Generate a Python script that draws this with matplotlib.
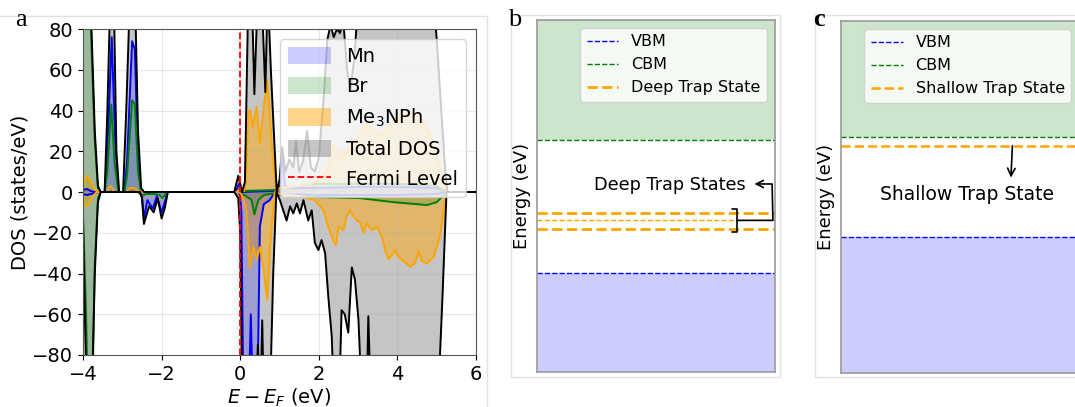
import matplotlib.pyplot as plt
from matplotlib.lines import Line2D
from matplotlib.patches import Rectangle

# ---- panel a: spin-resolved DOS (spin up > 0, spin down < 0) ----
MN_UP_E = [-4.0, -3.9, -3.8, -3.7, -3.45, -3.38, -3.27, -3.18, -3.1, -2.95, -2.88, -2.75, -2.68, -2.6, -2.52,
           -0.12, -0.03, 0.03, 0.95, 1.0, 1.07, 1.14, 1.3, 2.0, 3.0, 4.0, 5.0, 5.25, 6.0]
MN_UP = [1, 1.5, 0.5, 0, 0, 20, 76, 25, 0, 0, 15, 74, 70, 15, 0,
         0, 4, 0, 0.5, 3, 19, 3, 2, 2, 2.5, 2.5, 2, 0, 0]
MN_DN_E = [-4.0, -3.9, -3.7, -3.6, -2.55, -2.5, -2.45, -2.36, -2.3, -2.22, -2.12, -2.0, -1.92, -1.85,
           -0.05, 0.0, 0.03, 0.08, 0.22, 0.27, 0.32, 0.44, 0.5, 0.6, 0.75, 0.88, 1.0, 2.0, 3.0, 4.0, 5.0, 5.25, 6.0]
MN_DN = [-1, -1.5, -0.5, 0, 0, -2, -13, -4, -6, -8, -2, -10, -5, 0,
         0, -2, -10, -100, -100, -60, -100, -100, -17, -6, -4, 0, -1, -1.5, -1.5, -1.5, -1, 0, 0]

BR_UP_E = [-4.0, -3.9, -3.8, -3.7, -3.62, -3.55, -3.45, -3.38, -3.28, -3.2, -3.1, -2.95, -2.88, -2.75, -2.68,
           -2.6, -2.52, -0.1, -0.02, 0.05, 0.9, 1.0, 2.0, 3.0, 4.0, 5.0, 5.25, 6.0]
BR_UP = [85, 110, 80, 25, 2, 0, 0, 10, 43, 15, 0, 0, 8, 45, 43,
         10, 0, 0, 1, 0.5, 1, 2, 4, 4, 4, 3, 0, 0]
BR_DN_E = [-4.0, -3.92, -3.88, -3.76, -3.7, -3.62, -3.55, -2.6, -2.5, -2.4, -2.2, -2.05, -1.98, -1.9, -1.85,
           -0.05, 0.05, 0.15, 0.29, 0.36, 0.46, 0.6, 0.9, 1.0, 2.0, 3.05, 3.9, 4.75, 5.0, 5.25, 6.0]
BR_DN = [-11, -60, -100, -100, -35, -3, 0, 0, -2, -1, -1, -1.5, -3, -1, 0,
         0, -1, -2, -4, -11, -4, -1.5, -0.5, -1.5, -2.5, -3, -5, -6.4, -5, 0, 0]

ORG_UP_E = [-4.0, -3.9, -3.8, -3.7, -3.6, -3.4, -3.3, -3.2, -2.9, -2.8, -2.7, -2.6, -2.5, -0.1, 0.0, 0.1,
            0.14, 0.21, 0.25, 0.32, 0.42, 0.5, 0.59, 0.69, 0.75, 0.81, 0.92, 1.0, 1.5, 1.8, 2.0, 2.2, 2.36,
            2.6, 2.96, 3.22, 3.56, 3.9, 4.24, 4.58, 4.84, 5.08, 5.25, 6.0]
ORG_UP = [3, 8, 5, 1, 0, 0, 3, 0, 0, 2, 2, 0.5, 0, 0, 1, 0.5,
          5, 40, 40, 32, 42, 24, 40, 55, 40, 21, 0, 2, 3, 4, 6, 10, 23,
          17, 26, 33, 28, 34.5, 39, 36.5, 28, 12, 0, 0]
ORG_DN_E = [-4.0, -3.92, -3.85, -3.75, -3.65, -0.05, 0.03, 0.1, 0.16, 0.25, 0.33, 0.42, 0.5, 0.59, 0.69,
            0.76, 0.88, 1.0, 1.5, 1.9, 2.12, 2.24, 2.37, 2.44, 2.5, 2.63, 2.71, 2.79, 2.88, 2.97, 3.05,
            3.14, 3.22, 3.35, 3.48, 3.6, 3.69, 3.77, 3.86, 3.94, 4.03, 4.16, 4.33, 4.45, 4.54, 4.62,
            4.75, 4.92, 5.08, 5.25, 6.0]
ORG_DN = [-3, -7, -6, -2, 0, 0, -1, -5, -9, -37.5, -27, -33, -27, -37, -53,
          -27, 0, -1, -2, -4, -9, -17, -24, -26, -17, -18.7, -12, -9, -12, -14, -15,
          -20, -15.5, -18.7, -17, -22, -28.5, -33, -31, -28.5, -32, -34, -36.7, -35, -29, -34,
          -35, -32, -22, 0, 0]

TOT_UP_E = [-4.0, -3.9, -3.8, -3.7, -3.62, -3.55, -3.45, -3.38, -3.3, -3.22, -3.15, -3.08, -2.98, -2.9,
            -2.8, -2.68, -2.6, -2.52, -2.45, -0.15, -0.05, 0.05, 0.12, 0.2, 0.3, 0.36, 0.45, 0.55, 0.64,
            0.7, 0.78, 0.93, 1.0, 1.07, 1.15, 1.25, 1.35, 1.42, 1.5, 1.6, 1.7, 1.8, 1.9, 2.0, 2.12,
            2.22, 2.3, 2.38, 2.46, 2.54, 2.62, 2.72, 2.8, 2.9, 3.0, 3.1, 3.2, 3.3, 3.45, 3.55, 4.9,
            5.0, 5.1, 5.2, 5.27, 6.0]
TOT_UP = [95, 120, 90, 30, 3, 0, 0, 40, 100, 100, 20, 0, 0, 40,
          100, 100, 30, 2, 0, 0, 8, 0, 5, 90, 95, 48, 100, 95, 49,
          100, 60, 0, 6, 22, 10, 16, 12, 25, 10, 15, 30, 12, 10, 17, 45,
          75, 82, 76, 80, 78, 85, 60, 50, 65, 92, 100, 82, 80, 84, 100, 100,
          75, 45, 15, 0, 0]
TOT_DN_E = [-4.0, -3.9, -3.8, -3.7, -3.62, -3.55, -2.55, -2.5, -2.45, -2.32, -2.2, -2.1, -2.0, -1.92, -1.84,
            -0.15, -0.05, 0.0, 0.05, 0.4, 0.45, 0.5, 0.52, 0.56, 0.6, 0.76, 0.84, 0.92, 1.01, 1.18,
            1.27, 1.35, 1.44, 1.52, 1.61, 1.73, 1.82, 1.9, 1.99, 2.07, 2.16, 2.24, 2.33, 2.38, 2.52,
            2.58, 2.66, 2.75, 2.84, 2.92, 3.01, 3.09, 3.22, 3.26, 3.32, 5.04, 5.15, 5.25, 6.0]
TOT_DN = [-15, -110, -120, -40, -5, 0, 0, -3, -15.7, -7, -10, -3, -13, -8, 0,
          0, -3, -20, -100, -100, -75, -100, -100, -63, -100, -100, -40, 0, -4, -14,
          -7, -10.5, -5.6, -10.5, -4, -14, -9, -25, -28.5, -23.6, -30, -51, -71, -100, -100,
          -58, -60, -69, -37, -43, -63, -100, -100, -61, -100, -100, -50, 0, 0]

SPECIES = ["Mn", "Br", "Me$_3$NPh", "Total DOS"]

# ---- panels b, c: band-edge schemes (eV, VBM = 0) ----
B_YLIM = (-1.65, 4.2)
B_VBM, B_CBM = 0.0, 2.2
B_TRAPS = [1.0, 0.87, 0.73]
B_TRAP_LW = [2.0, 1.0, 2.0]
C_YLIM = (-3.0, 4.75)
C_VBM, C_CBM = 0.0, 2.2
C_TRAP = 2.0

W, H = 1075, 407
fig = plt.figure(figsize=(W / 100, H / 100), dpi=100)

# light frames around each sub-picture
for x0, y0, x1, y1 in [(-5, 16, 487, 420), (511, 15, 780, 377), (815, 15, 1090, 377)]:
    fig.add_artist(Rectangle((x0 / W, 1 - y1 / H), (x1 - x0) / W, (y1 - y0) / H,
                             transform=fig.transFigure, fill=False, ec="#e2e2e2", lw=1.0))

for lab, x, bold in [("a", 15, False), ("b", 508, False), ("c", 813, True)]:
    fig.text(x / W, 1 - 26 / H, lab, fontsize=19, family="Liberation Serif",
             fontweight="bold" if bold else "normal", va="baseline", ha="left")

# ---- panel a ----
ax = fig.add_axes([83 / W, 1 - 355 / H, 393 / W, 326 / H])
series = [
    (MN_UP_E, MN_UP, MN_DN_E, MN_DN, "blue", 0.2),
    (BR_UP_E, BR_UP, BR_DN_E, BR_DN, "green", 0.2),
    (ORG_UP_E, ORG_UP, ORG_DN_E, ORG_DN, "orange", 0.45),
    (TOT_UP_E, TOT_UP, TOT_DN_E, TOT_DN, "gray", 0.45),
]
handles = {}
# total first so the species fills sit on top of the grey
for (eu, vu, ed, vd, col, a), name in reversed(list(zip(series, SPECIES))):
    handles[name] = ax.fill_between(eu, vu, 0, color=col, alpha=a, lw=0, label=name)
    ax.fill_between(ed, vd, 0, color=col, alpha=a, lw=0)
for eu, vu, ed, vd, col, a in series:
    lc = "black" if col == "gray" else col
    ax.plot(eu, vu, color=lc, lw=1.4)
    ax.plot(ed, vd, color=lc, lw=1.4)
fermi = ax.axvline(0, color="red", ls="--", lw=1.3, label="Fermi Level")
ax.set_xlim(-4, 6)
ax.set_ylim(-80, 80)
ax.set_xticks([-4, -2, 0, 2, 4, 6])
ax.set_yticks(range(-80, 81, 20))
ax.tick_params(labelsize=14)
ax.grid(alpha=0.3)
ax.set_xlabel("$E - E_F$ (eV)", fontsize=14, labelpad=2)
ax.set_ylabel("DOS (states/eV)", fontsize=14, labelpad=2)
ax.legend(handles=[handles[n] for n in SPECIES] + [fermi], loc="upper right", fontsize=14,
          handleheight=1.0, handlelength=2.2, labelspacing=0.55)
for s in ax.spines.values():
    s.set_color("#555555")

# ---- panel b ----
axb = fig.add_axes([537 / W, 1 - 372 / H, 238 / W, 352 / H])
axb.axhspan(B_CBM, B_YLIM[1], color="green", alpha=0.2, lw=0)
axb.axhspan(B_YLIM[0], B_VBM, color="blue", alpha=0.2, lw=0)
axb.axhline(B_VBM, color="blue", ls="--", lw=1)
axb.axhline(B_CBM, color="green", ls="--", lw=1)
for t, lw in zip(B_TRAPS, B_TRAP_LW):
    axb.axhline(t, color="orange", ls="--", lw=lw)
axb.set_ylim(*B_YLIM)
axb.set_xlim(0, 1)
axb.annotate("Deep Trap States", xy=(0.84, B_TRAPS[1]), xycoords=("axes fraction", "data"),
             xytext=(0.56, 1.46), textcoords=("axes fraction", "data"),
             ha="center", va="center", fontsize=12.7,
             arrowprops=dict(arrowstyle="<-[, widthB=0.65, lengthB=0.3",
                             connectionstyle="arc,angleA=0,angleB=0,armA=26,armB=36,rad=0",
                             relpos=(1, 0.55), color="black", lw=1.2, shrinkA=4, shrinkB=0))
axb.legend(handles=[Line2D([], [], color="blue", ls="--", lw=1, label="VBM"),
                    Line2D([], [], color="green", ls="--", lw=1, label="CBM"),
                    Line2D([], [], color="orange", ls="--", lw=2, label="Deep Trap State")],
           loc="upper right", fontsize=11.5)

# ---- panel c ----
axc = fig.add_axes([841 / W, 1 - 373 / H, 238 / W, 352 / H])
axc.axhspan(C_CBM, C_YLIM[1], color="green", alpha=0.2, lw=0)
axc.axhspan(C_YLIM[0], C_VBM, color="blue", alpha=0.2, lw=0)
axc.axhline(C_VBM, color="blue", ls="--", lw=1)
axc.axhline(C_CBM, color="green", ls="--", lw=1)
axc.axhline(C_TRAP, color="orange", ls="--", lw=1.8)
axc.set_ylim(*C_YLIM)
axc.set_xlim(0, 1)
axc.annotate("Shallow Trap State", xy=(0.72, C_TRAP), xycoords=("axes fraction", "data"),
             xytext=(0.53, 0.94), textcoords=("axes fraction", "data"),
             ha="center", va="center", fontsize=13.5,
             arrowprops=dict(arrowstyle="<-", relpos=(0.75, 1), color="black", lw=1.2,
                             shrinkA=3, shrinkB=0))
axc.legend(handles=[Line2D([], [], color="blue", ls="--", lw=1, label="VBM"),
                    Line2D([], [], color="green", ls="--", lw=1, label="CBM"),
                    Line2D([], [], color="orange", ls="--", lw=1.8, label="Shallow Trap State")],
           loc="upper right", fontsize=11.5)

for a in (axb, axc):
    a.set_xticks([])
    a.set_yticks([])
    a.set_ylabel("Energy (eV)", fontsize=13, labelpad=4)
    for s in a.spines.values():
        s.set_color("#999999")
        s.set_linewidth(1.2)

fig.savefig("out.png", dpi=100)
